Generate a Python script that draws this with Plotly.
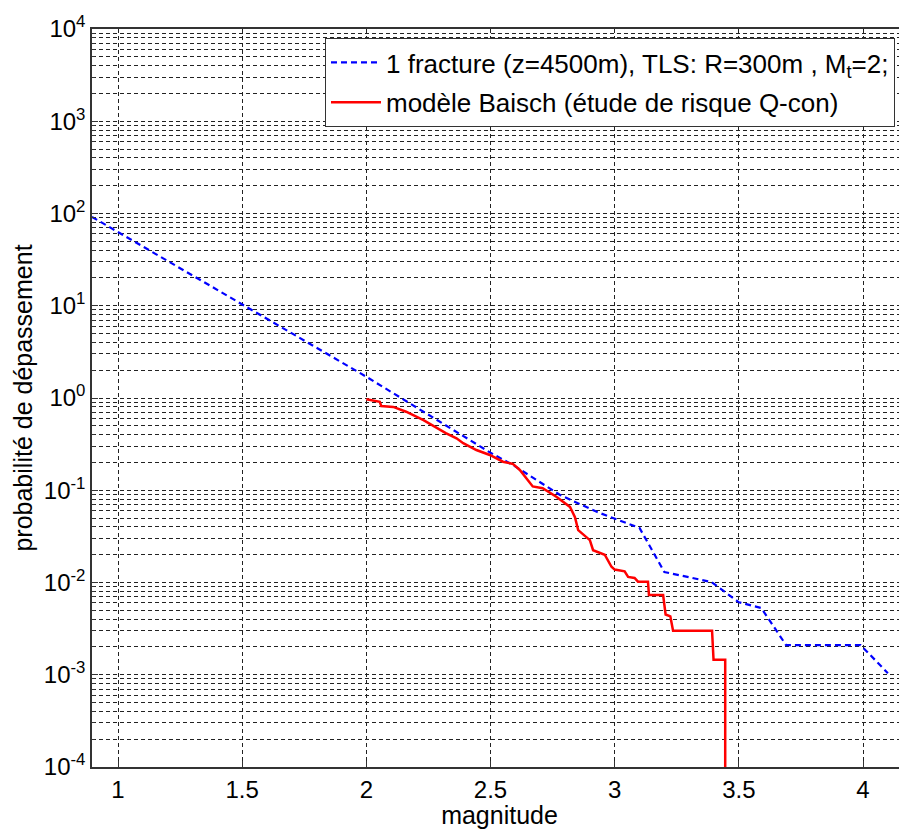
import plotly.graph_objects as go

# Blue dashed: 1 fracture (z=4500m), TLS
blue_m = [0.895, 1.0, 1.5, 2.0, 2.5, 2.59, 2.78, 2.93, 3.10, 3.20, 3.39, 3.50, 3.59, 3.69, 3.99, 4.10]
blue_p = [92, 63, 10.2, 1.70, 0.255, 0.188, 0.089, 0.058, 0.039, 0.013, 0.0101, 0.0061, 0.0053, 0.0021, 0.0021, 0.00104]

# Red solid: modèle Baisch
red_m = [2.0, 2.054, 2.06, 2.108, 2.16, 2.23, 2.32, 2.363, 2.39, 2.443, 2.497, 2.55, 2.59, 2.618,
         2.67, 2.71, 2.765, 2.82, 2.84, 2.853, 2.90, 2.913, 2.96, 2.987, 3.0, 3.04, 3.054, 3.08,
         3.094, 3.134, 3.138, 3.195, 3.205, 3.224, 3.235, 3.392, 3.398, 3.445, 3.445]
red_p = [0.97, 0.91, 0.82, 0.80, 0.71, 0.575, 0.417, 0.366, 0.324, 0.273, 0.241, 0.204, 0.193, 0.166,
         0.110, 0.105, 0.085, 0.066, 0.051, 0.037, 0.0288, 0.0224, 0.020, 0.0148, 0.0138, 0.0132, 0.0115, 0.0112,
         0.0102, 0.0102, 0.0073, 0.0073, 0.0045, 0.0043, 0.0030, 0.0030, 0.00145, 0.00145, 0.00001]

xtick_vals = [1, 1.5, 2, 2.5, 3, 3.5, 4]
xtick_text = ["1", "1.5", "2", "2.5", "3", "3.5", "4"]
ytick_vals = [1e-4, 1e-3, 1e-2, 1e-1, 1e0, 1e1, 1e2, 1e3, 1e4]
ytick_text = ["10<sup>-4</sup>", "10<sup>-3</sup>", "10<sup>-2</sup>", "10<sup>-1</sup>", "10<sup>0</sup>",
              "10<sup>1</sup>", "10<sup>2</sup>", "10<sup>3</sup>", "10<sup>4</sup>"]

FONT = "Liberation Sans, Arial, sans-serif"

fig = go.Figure()
fig.add_trace(go.Scatter(
    x=blue_m, y=blue_p, mode="lines",
    name="1 fracture (z=4500m), TLS: R=300m , M<sub>t</sub>=2;",
    line=dict(color="#0000FF", width=2.2, dash="6px,4px"),
    legendgroup="a",
))
fig.add_trace(go.Scatter(
    x=red_m, y=red_p, mode="lines",
    name="modèle Baisch (étude de risque Q-con)",
    line=dict(color="#FF0000", width=2.5),
    legendgroup="b",
))

# page has an 8px body margin: plot area at page x 92..907, y 29..767
fig.update_layout(
    width=899, height=821,
    margin=dict(l=84, r=0, t=21, b=62),
    paper_bgcolor="white", plot_bgcolor="white",
    font=dict(family=FONT, size=25, color="black"),
    legend=dict(
        x=(325 - 92) / 815, y=(767 - 38) / 738, xanchor="left", yanchor="top",
        bgcolor="white", bordercolor="#333333", borderwidth=1,
        font=dict(size=26, family=FONT), tracegroupgap=3,
        traceorder="grouped", itemwidth=50,
    ),
    showlegend=True,
)
fig.update_xaxes(
    range=[0.8953, 4.177], automargin=False,
    tickvals=xtick_vals, ticktext=xtick_text,
    tickfont=dict(size=24),
    ticks="inside", ticklen=6, tickcolor="#333333",
    showline=True, linecolor="#333333", linewidth=1.5, mirror=True,
    showgrid=True, gridcolor="#222222", gridwidth=1, griddash="4px,3px",
    zeroline=False,
    title=dict(text="magnitude", font=dict(size=25), standoff=2),
)
fig.update_yaxes(
    type="log", range=[-4, 4], automargin=False,
    tickvals=ytick_vals, ticktext=ytick_text,
    tickfont=dict(size=24),
    ticks="inside", ticklen=6, tickcolor="#333333",
    showline=True, linecolor="#333333", linewidth=1.5, mirror=False,
    showgrid=True, gridcolor="#222222", gridwidth=1, griddash="4px,3px",
    minor=dict(dtick="D1", showgrid=True, gridcolor="#222222", gridwidth=1, griddash="4px,3px",
               ticks="inside", ticklen=3, tickcolor="#333333"),
    zeroline=False,
    title=dict(text="probabilité de dépassement", font=dict(size=25), standoff=4),
)

fig.write_html("out.html")
